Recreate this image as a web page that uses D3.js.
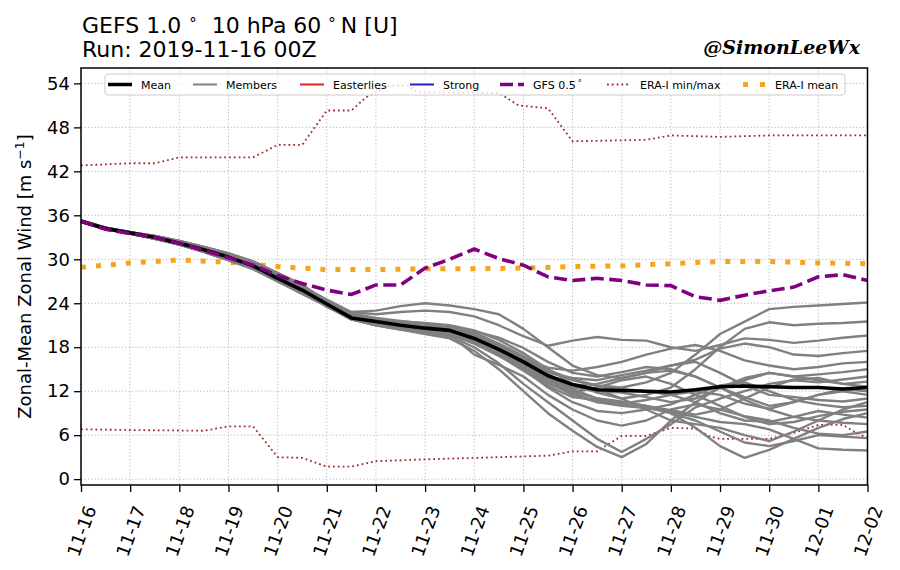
<!DOCTYPE html>
<html>
<head>
<meta charset="utf-8">
<script src="https://cdn.jsdelivr.net/npm/d3@7"></script>
<style>
    body { margin: 0; background: #fff; }
    svg { display: block; font-family: "DejaVu Sans", sans-serif; }
</style>
</head>
<body>
<svg id="chart" width="900" height="570"></svg>
<script>
// run info
const runStart = Date.UTC(2019, 10, 16)
const stepHours = 12

const yTicks = [0, 6, 12, 18, 24, 30, 36, 42, 48, 54]

// ensemble mean, 12-hourly
const meanVals = [35.2, 34.2, 33.6, 33.0, 32.2, 31.3, 30.3, 29.1, 27.4, 25.8,
    23.9, 22.0, 21.5, 21.0, 20.6, 20.3, 19.2, 17.7, 16.0, 14.1,
    12.9, 12.2, 12.1, 12.0, 11.9, 12.2, 12.6, 12.7, 12.6, 12.5,
    12.5, 12.3, 12.5]

// GFS 0.5 deg, 12-hourly
const gfsVals = [35.2, 34.1, 33.5, 33.0, 32.2, 31.2, 30.2, 29.2, 27.8, 26.7,
    25.8, 25.2, 26.5, 26.5, 28.8, 30.0, 31.4, 30.1, 29.2, 27.6,
    27.1, 27.4, 27.1, 26.5, 26.4, 24.9, 24.4, 25.1, 25.7, 26.2,
    27.6, 27.9, 27.1]

// 21 members, 12-hourly
const members = [
    [35.2, 34.3, 33.7, 33.2, 32.5, 31.7, 30.8, 29.7, 28.1, 26.5,
        24.3, 22.6, 22.0, 21.6, 21.2, 20.8, 20.0, 18.5, 16.8, 14.9, 13.6, 12.8, 12.5, 13.2, 14.5, 17.0, 19.8, 21.5, 23.2, 23.5, 23.7, 23.9, 24.1],
    [35.3, 34.3, 33.7, 33.1, 32.4, 31.6, 30.6, 29.5, 27.9, 26.3,
        23.8, 22.3, 21.8, 21.5, 21.3, 21.0, 20.3, 19.0, 17.2, 15.0, 13.0, 11.8, 11.0, 11.5, 12.5, 15.0, 18.0, 20.5, 21.4, 21.0, 21.2, 21.3, 21.5],
    [35.2, 34.3, 33.7, 33.2, 32.5, 31.7, 30.8, 29.7, 28.1, 26.5,
        24.0, 22.8, 22.5, 22.8, 23.0, 22.8, 22.2, 21.0, 19.5, 18.2, 18.9, 19.4, 19.0, 18.9, 18.0, 17.5, 18.3, 19.2, 19.0, 18.6, 18.9, 19.3, 19.6],
    [35.3, 34.3, 33.7, 33.1, 32.4, 31.6, 30.6, 29.5, 27.9, 26.3,
        24.5, 22.8, 23.0, 23.6, 24.0, 23.7, 23.2, 22.5, 20.5, 18.0, 15.5, 14.2, 13.8, 14.5, 15.5, 16.3, 17.8, 18.5, 18.0, 17.0, 16.8, 17.2, 17.5],
    [35.2, 34.2, 33.6, 33.0, 32.3, 31.4, 30.4, 29.2, 27.6, 26.0,
        23.5, 22.0, 21.3, 20.8, 20.5, 20.5, 19.5, 18.0, 16.5, 15.2, 14.8, 15.3, 16.0, 17.0, 17.8, 18.3, 17.5, 16.2, 15.5, 15.0, 15.3, 15.8, 16.0],
    [35.1, 34.1, 33.5, 32.8, 32.0, 31.0, 29.9, 28.7, 27.0, 25.3,
        23.6, 21.8, 21.0, 20.4, 19.8, 19.2, 17.5, 15.0, 12.0, 9.0, 6.6, 4.4, 3.0, 4.8, 8.0, 10.5, 12.5, 13.8, 14.5, 14.0, 14.3, 14.6, 15.0],
    [35.2, 34.2, 33.5, 32.9, 32.1, 31.2, 30.1, 28.9, 27.2, 25.5,
        23.8, 22.0, 21.2, 20.6, 20.0, 19.5, 18.0, 15.8, 13.0, 10.5, 8.0, 5.5, 3.7, 5.5, 7.5, 9.8, 11.0, 12.0, 13.0, 13.5, 13.2, 13.6, 14.0],
    [35.2, 34.2, 33.6, 33.0, 32.3, 31.4, 30.4, 29.2, 27.6, 26.0,
        24.0, 22.1, 21.5, 21.2, 21.0, 20.9, 19.6, 18.2, 16.0, 13.8, 12.5, 12.0, 11.8, 11.2, 10.5, 11.0, 12.4, 13.5, 14.5, 14.0, 13.5, 13.0, 13.3],
    [35.2, 34.2, 33.5, 32.9, 32.1, 31.2, 30.1, 28.9, 27.2, 25.5,
        23.9, 22.0, 21.4, 20.9, 20.4, 20.1, 19.0, 17.2, 15.4, 13.5, 12.0, 11.0, 10.5, 10.0, 9.4, 8.8, 9.5, 11.0, 12.5, 13.6, 13.8, 13.0, 12.6],
    [35.3, 34.3, 33.7, 33.1, 32.4, 31.6, 30.6, 29.5, 27.9, 26.3,
        24.2, 22.2, 21.6, 21.1, 20.8, 20.6, 20.2, 19.3, 17.9, 16.0, 14.5, 14.0, 14.6, 15.3, 15.0, 14.0, 12.5, 11.2, 10.0, 10.5, 11.5, 12.3, 12.0],
    [35.1, 34.1, 33.5, 32.8, 32.0, 31.0, 29.9, 28.7, 27.0, 25.3,
        23.7, 21.9, 21.2, 20.7, 20.3, 19.9, 18.7, 17.0, 15.2, 13.2, 11.5, 10.5, 10.3, 10.8, 11.5, 12.0, 11.5, 10.3, 9.6, 10.5, 11.5, 12.0, 11.5],
    [35.2, 34.3, 33.7, 33.2, 32.5, 31.7, 30.8, 29.7, 28.1, 26.5,
        24.1, 22.4, 21.9, 21.4, 21.0, 20.6, 19.4, 17.8, 16.3, 14.5, 13.8, 13.5, 14.2, 14.8, 15.5, 16.0, 14.5, 12.8, 11.5, 11.2, 10.8, 10.6, 11.0],
    [35.2, 34.2, 33.6, 33.0, 32.3, 31.4, 30.4, 29.2, 27.6, 26.0,
        23.9, 22.2, 21.6, 21.0, 20.5, 20.2, 19.0, 17.5, 15.8, 14.2, 13.0, 12.3, 11.0, 9.5, 8.0, 7.5, 7.0, 6.0, 5.2, 6.5, 8.0, 9.5, 10.5],
    [35.2, 34.2, 33.5, 32.9, 32.1, 31.2, 30.1, 28.9, 27.2, 25.5,
        24.0, 22.1, 21.5, 21.0, 20.7, 20.3, 19.3, 17.5, 15.0, 12.5, 10.5, 9.3, 9.0, 9.5, 10.2, 11.5, 12.8, 13.2, 12.0, 10.8, 10.2, 9.8, 10.0],
    [35.1, 34.1, 33.5, 32.8, 32.0, 31.0, 29.9, 28.7, 27.0, 25.3,
        23.7, 21.8, 21.0, 20.4, 20.0, 19.7, 18.5, 16.8, 15.0, 13.0, 11.8, 12.5, 13.5, 14.0, 13.0, 11.5, 10.0, 8.5, 7.5, 7.8, 8.6, 9.2, 9.5],
    [35.2, 34.2, 33.6, 33.0, 32.3, 31.4, 30.4, 29.2, 27.6, 26.0,
        23.8, 22.0, 21.3, 20.8, 20.2, 19.8, 18.6, 16.9, 14.8, 12.7, 11.2, 10.8, 10.2, 9.8, 9.0, 7.0, 4.5, 2.9, 4.0, 5.5, 7.0, 8.2, 9.0],
    [35.3, 34.3, 33.7, 33.1, 32.4, 31.6, 30.6, 29.5, 27.9, 26.3,
        24.1, 22.3, 21.7, 21.3, 21.0, 20.7, 19.7, 18.3, 16.5, 14.8, 13.5, 12.7, 12.3, 12.0, 11.5, 10.5, 9.0, 8.0, 7.8, 8.5, 9.3, 8.8, 8.4],
    [35.2, 34.2, 33.5, 32.9, 32.1, 31.2, 30.1, 28.9, 27.2, 25.5,
        23.9, 22.0, 21.4, 20.8, 20.3, 20.0, 18.8, 17.0, 15.2, 13.5, 12.8, 13.0, 13.8, 14.5, 14.8, 14.0, 12.5, 10.8, 9.5, 8.5, 8.0, 7.7, 7.5],
    [35.1, 34.1, 33.5, 32.8, 32.0, 31.0, 29.9, 28.7, 27.0, 25.3,
        23.6, 21.8, 21.1, 20.5, 20.1, 19.8, 17.0, 15.6, 14.0, 11.5, 9.5, 8.0, 7.3, 8.0, 9.5, 10.2, 9.5, 8.6, 8.0, 7.0, 6.2, 6.0, 6.5],
    [35.2, 34.2, 33.6, 33.0, 32.3, 31.4, 30.4, 29.2, 27.6, 26.0,
        24.0, 22.2, 21.6, 21.1, 20.6, 20.3, 19.1, 17.6, 15.8, 13.8, 12.3, 11.0, 10.6, 10.0, 9.0, 8.0, 6.5, 5.0, 4.5, 5.2, 6.0, 5.8, 5.6],
    [35.2, 34.2, 33.5, 32.9, 32.1, 31.2, 30.1, 28.9, 27.2, 25.5,
        23.8, 22.0, 21.3, 20.8, 20.4, 20.0, 18.9, 17.3, 15.6, 13.6, 11.8, 10.5, 10.0, 9.7, 9.2, 8.5, 7.8, 7.5, 6.8, 5.5, 4.2, 4.0, 3.9]
]

// ERA-Interim climatology (day offsets from run start)
const eraMeanDays = [0, 1, 2, 3, 4, 5, 6, 7, 8, 9, 10, 11, 12, 13, 14, 15, 16]
const eraMeanVals = [28.9, 29.5, 29.9, 29.6, 29.0, 28.6, 28.6, 28.7, 28.7, 28.8, 29.0, 29.1, 29.4, 29.7, 29.7, 29.5, 29.4]

const eraMaxDays = [0, 1, 1.5, 2, 3.5, 4, 4.5, 5, 5.5, 5.8, 6.25, 6.65, 6.85, 8.5, 8.9, 9.5, 10, 11.5, 12, 13, 14, 16]
const eraMaxVals = [42.8, 43.1, 43.1, 43.9, 43.9, 45.6, 45.6, 50.3, 50.3, 52.1, 53.7, 53.7, 52.8, 52.7, 51.0, 50.6, 46.1, 46.3, 46.9, 46.7, 46.9, 46.9]

const eraMinDays = [0, 1, 2.5, 3, 3.5, 4, 4.5, 5, 5.5, 6, 7, 9.5, 10, 10.5, 11, 11.5, 12, 12.5, 12.8, 13, 14, 14.5, 15, 15.5, 15.75, 16]
const eraMinVals = [6.8, 6.7, 6.6, 7.2, 7.2, 3.0, 2.9, 1.7, 1.7, 2.45, 2.7, 3.2, 3.8, 3.8, 5.9, 5.9, 7.0, 6.9, 5.8, 5.5, 5.5, 6.3, 7.4, 7.4, 6.4, 5.6]

const legendItems = [
    {label: "Mean", color: "#000", width: 3.5, dash: null, x: 108},
    {label: "Members", color: "#808080", width: 2, dash: null, x: 193},
    {label: "Easterlies", color: "#dd2222", width: 2, dash: null, x: 300},
    {label: "Strong", color: "#2222bb", width: 2, dash: null, x: 410},
    {label: "GFS 0.5", deg: true, color: "#800080", width: 3.5, dash: "13,5", x: 500},
    {label: "ERA-I min/max", color: "#a52a2a", width: 1.8, dash: "1.8,3", x: 607},
    {label: "ERA-I mean", color: "#f5a51c", width: 5, dash: "5,12", x: 743},
]

const svg = d3.select("#chart")

const margin = {left: 81, right: 32.5, top: 68, bottom: 85}
const W = 900, H = 570

const x = d3.scaleUtc()
    .domain([new Date(runStart), new Date(runStart + 16 * 86400e3)])
    .range([margin.left, W - margin.right])

const y = d3.scaleLinear()
    .domain([-0.8, 56.1])
    .range([H - margin.bottom, margin.top])

const timeAt = i => new Date(runStart + i * stepHours * 3600e3)
const dayAt = d => new Date(runStart + d * 86400e3)

const days = d3.utcDay.range(x.domain()[0], new Date(+x.domain()[1] + 1))

// grid
const grid = svg.append("g")
grid.selectAll("line.v").data(days).join("line")
    .attr("x1", d => x(d)).attr("x2", d => x(d))
    .attr("y1", margin.top).attr("y2", H - margin.bottom)
grid.selectAll("line.h").data(yTicks).join("line")
    .attr("x1", margin.left).attr("x2", W - margin.right)
    .attr("y1", d => y(d)).attr("y2", d => y(d))
grid.selectAll("line")
    .attr("stroke", "#b8b8b8")
    .attr("stroke-width", 1)
    .attr("stroke-dasharray", "1.2,2.2")

const line = d3.line()
    .x(d => x(d[0]))
    .y(d => y(d[1]))

const plot = svg.append("g")

// ERA-I min/max
;[[eraMaxDays, eraMaxVals], [eraMinDays, eraMinVals]].forEach(([ds, vs]) => {
    plot.append("path")
        .attr("d", line(ds.map((d, i) => [dayAt(d), vs[i]])))
        .attr("fill", "none")
        .attr("stroke", "#a52a2a")
        .attr("stroke-width", 1.8)
        .attr("stroke-dasharray", "1.8,3")
})

// ERA-I mean
plot.append("path")
    .attr("d", line(eraMeanDays.map((d, i) => [dayAt(d), eraMeanVals[i]])))
    .attr("fill", "none")
    .attr("stroke", "#f5a51c")
    .attr("stroke-width", 5)
    .attr("stroke-dasharray", "5,10")

// members
plot.selectAll("path.member").data(members).join("path")
    .attr("class", "member")
    .attr("d", m => line(m.map((v, i) => [timeAt(i), v])))
    .attr("fill", "none")
    .attr("stroke", "#808080")
    .attr("stroke-width", 2.4)
    .attr("stroke-linejoin", "round")

// mean
plot.append("path")
    .attr("d", line(meanVals.map((v, i) => [timeAt(i), v])))
    .attr("fill", "none")
    .attr("stroke", "#000")
    .attr("stroke-width", 3.6)
    .attr("stroke-linejoin", "round")

// GFS
plot.append("path")
    .attr("d", line(gfsVals.map((v, i) => [timeAt(i), v])))
    .attr("fill", "none")
    .attr("stroke", "#800080")
    .attr("stroke-width", 3.6)
    .attr("stroke-dasharray", "13,5.5")

// axes
const yAxis = svg.append("g")
    .attr("transform", `translate(${margin.left},0)`)
    .call(d3.axisLeft(y).tickValues(yTicks).tickSize(7).tickPadding(4))
const xAxis = svg.append("g")
    .attr("transform", `translate(0,${H - margin.bottom})`)
    .call(d3.axisBottom(x).tickValues(days).tickSize(7).tickFormat(d3.utcFormat("%m-%d")))

;[yAxis, xAxis].forEach(a => {
    a.select(".domain").remove()
    a.selectAll(".tick line").attr("stroke", "#000").attr("stroke-width", 1.3)
    a.selectAll("text").attr("font-size", 18).attr("fill", "#000")
        .attr("font-family", "DejaVu Sans")
})

xAxis.selectAll("text")
    .attr("y", 0).attr("dy", null)
    .attr("text-anchor", "middle")
    .attr("dominant-baseline", "central")
    .attr("transform", "translate(0,46) rotate(-70)")

// frame
svg.append("rect")
    .attr("x", margin.left).attr("y", margin.top)
    .attr("width", W - margin.left - margin.right)
    .attr("height", H - margin.top - margin.bottom)
    .attr("fill", "none")
    .attr("stroke", "#000")
    .attr("stroke-width", 1.5)

// y label
const yl = svg.append("text")
    .attr("transform", `translate(31,${(margin.top + H - margin.bottom) / 2}) rotate(-90)`)
    .attr("text-anchor", "middle")
    .attr("font-size", 18)
yl.append("tspan").text("Zonal-Mean Zonal Wind [m s")
yl.append("tspan").text("\u22121").attr("font-size", 12.5).attr("dy", -7)
yl.append("tspan").text("]").attr("dy", 7)

// title
const t1 = svg.append("text").attr("x", 82).attr("y", 33).attr("font-size", 22)
t1.append("tspan").text("GEFS 1.0")
t1.append("tspan").text("\u00b0").attr("font-size", 15).attr("dy", -4).attr("dx", 8)
t1.append("tspan").text("10 hPa 60").attr("dy", 4).attr("dx", 15)
t1.append("tspan").text("\u00b0").attr("font-size", 15).attr("dy", -4).attr("dx", 7)
t1.append("tspan").text("N [U]").attr("dy", 4).attr("dx", 5)
svg.append("text").attr("x", 82).attr("y", 57).attr("font-size", 22)
    .text("Run: 2019-11-16 00Z")

svg.append("text")
    .attr("x", 860).attr("y", 54)
    .attr("text-anchor", "end")
    .attr("font-family", "DejaVu Serif")
    .attr("font-weight", "bold")
    .attr("font-style", "italic")
    .attr("font-size", 19)
    .text("@SimonLeeWx")

// legend
const lg = svg.append("g")
lg.append("rect")
    .attr("x", 105).attr("y", 74)
    .attr("width", 740).attr("height", 21)
    .attr("rx", 3)
    .attr("fill", "#fff").attr("fill-opacity", 0.8)
    .attr("stroke", "#cccccc")
const li = lg.selectAll("g.item").data(legendItems).join("g")
    .attr("transform", d => `translate(${d.x},84.5)`)
li.append("line")
    .attr("x1", 0).attr("x2", 24)
    .attr("stroke", d => d.color)
    .attr("stroke-width", d => d.width)
    .attr("stroke-dasharray", d => d.dash)
li.append("text")
    .attr("x", d => d.dash === "5,12" ? 32 : 33)
    .attr("y", 4)
    .attr("font-size", 11)
    .each(function (d) {
        const t = d3.select(this)
        t.append("tspan").text(d.label)
        if (d.deg) t.append("tspan").text("\u00b0").attr("font-size", 8).attr("dy", -3).attr("dx", 2)
    })
</script>
</body>
</html>
